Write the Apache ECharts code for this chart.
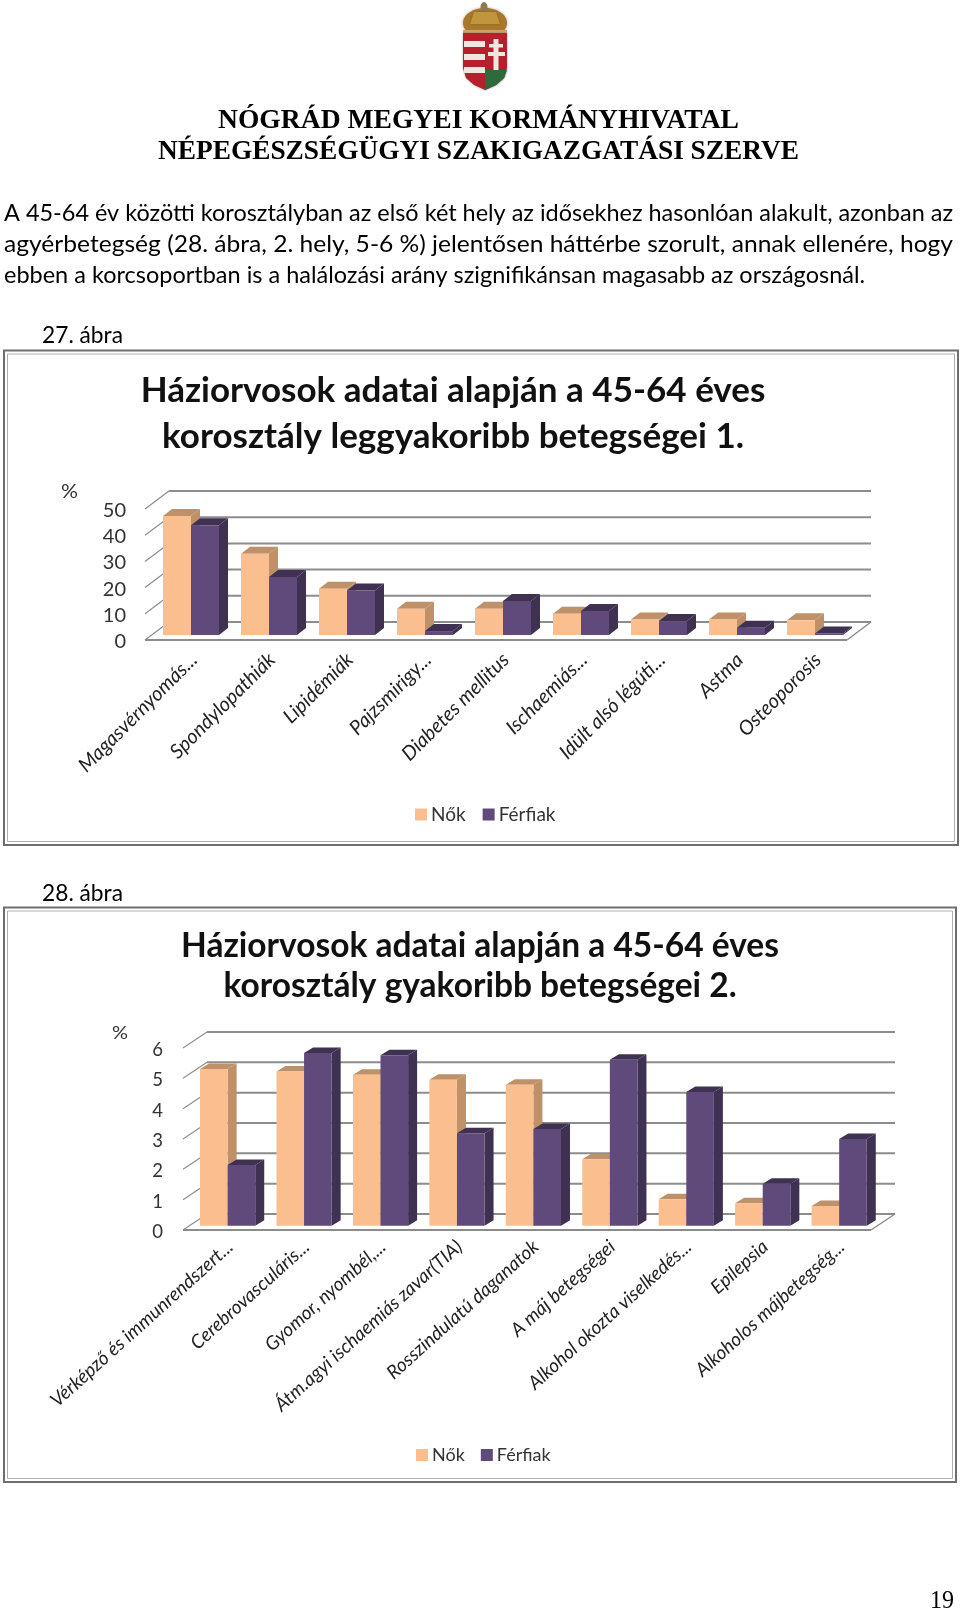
<!DOCTYPE html>
<html>
<head>
<meta charset="utf-8">
<style>html,body{margin:0;padding:0;background:#fff}#c{width:960px;height:1611px}</style>
<script src="https://cdn.jsdelivr.net/npm/echarts@6/dist/echarts.min.js"></script>
</head>
<body>
<div id="c"></div>
<script>
var seriesNames = ['Nők', 'Férfiak'];

var categories1 = ['Magasvérnyomás...', 'Spondylopathiák', 'Lipidémiák', 'Pajzsmirigy...', 'Diabetes mellitus', 'Ischaemiás...', 'Idült alsó légúti...', 'Astma', 'Osteoporosis'];
var women1 = [45.4, 31, 17.7, 10, 10, 8.1, 5.9, 5.9, 5.6];
var men1 = [41.9, 22.1, 17, 1.5, 13, 9.2, 5.3, 2.8, 0.6];
var ticks1 = [0, 10, 20, 30, 40, 50];

var categories2 = ['Vérképző és immunrendszert...', 'Cerebrovasculáris...', 'Gyomor, nyombél,...', 'Átm.agyi ischaemiás zavar(TIA)', 'Rosszindulatú daganatok', 'A máj betegségei', 'Alkohol okozta viselkedés...', 'Epilepsia', 'Alkoholos májbetegség...'];
var women2 = [5.17, 5.08, 4.98, 4.81, 4.65, 2.19, 0.87, 0.74, 0.65];
var men2 = [2.0, 5.69, 5.62, 3.05, 3.19, 5.47, 4.41, 1.38, 2.86];
var ticks2 = [0, 1, 2, 3, 4, 5, 6];

var headerLines = ['NÓGRÁD MEGYEI KORMÁNYHIVATAL', 'NÉPEGÉSZSÉGÜGYI SZAKIGAZGATÁSI SZERVE'];
var bodyLines = [
  'A 45-64 év közötti korosztályban az első két hely az idősekhez hasonlóan alakult, azonban az',
  'agyérbetegség (28. ábra, 2. hely, 5-6 %) jelentősen háttérbe szorult, annak ellenére, hogy',
  'ebben a korcsoportban is a halálozási arány szignifikánsan magasabb az országosnál.'
];
var title1 = ['Háziorvosok adatai alapján a 45-64 éves', 'korosztály leggyakoribb betegségei 1.'];
var title2 = ['Háziorvosok adatai alapján a 45-64 éves', 'korosztály gyakoribb betegségei 2.'];

var PEACH = '#FBBF8F', PEACH_D = '#BE9168', PURPLE = '#604A7B', PURPLE_D = '#3F3151', GRIDC = '#8C8C8C';
var SANS = 'Lato, Carlito, sans-serif';

var mctx = document.createElement('canvas').getContext('2d');
function fitText(text, font, x0, x1, y, fill) {
  mctx.font = font;
  var w = mctx.measureText(text).width;
  return { type: 'text', x: x0, y: y, scaleX: (x1 - x0) / w, silent: true,
    style: { text: text, font: font, fill: fill || '#000', textAlign: 'left', textVerticalAlign: 'middle' } };
}

function barRenderer(side, geo) {
  return function (params, api) {
    var base = api.coord([api.value(0), 0]);
    var top = api.coord([api.value(0), api.value(1)]);
    var x = base[0] + geo.off + (side === 0 ? -geo.w : 0);
    var y0 = base[1] - geo.lift, y1 = top[1] - geo.lift;
    var d = geo.dx, e = geo.dy;
    var dark = side === 0 ? PEACH_D : PURPLE_D;
    return { type: 'group', children: [
      { type: 'polygon', shape: { points: [[x + geo.w, y1], [x + geo.w + d, y1 - e], [x + geo.w + d, y0 - e], [x + geo.w, y0]] }, style: { fill: dark } },
      { type: 'polygon', shape: { points: [[x, y1], [x + d, y1 - e], [x + geo.w + d, y1 - e], [x + geo.w, y1]] }, style: { fill: dark } },
      { type: 'rect', shape: { x: x, y: y1, width: geo.w, height: y0 - y1 }, style: { fill: side === 0 ? PEACH : PURPLE } }
    ] };
  };
}

function wallRenderer(geo) {
  return function (params, api) {
    var c = params.coordSys;
    var v = api.value(0);
    var y = api.coord([0, v])[1] - geo.shift;
    var L = c.x, R = c.x + c.width;
    var kids = [
      { type: 'line', shape: { x1: L, y1: y, x2: L + geo.bx, y2: y - geo.by }, style: { stroke: GRIDC, lineWidth: 1.2 } },
      { type: 'line', shape: { x1: L + geo.bx, y1: y - geo.by, x2: R + geo.bx, y2: y - geo.by }, style: { stroke: GRIDC, lineWidth: 2 } }
    ];
    if (v === 0) {
      kids.push({ type: 'line', shape: { x1: L, y1: y, x2: R, y2: y }, style: { stroke: GRIDC, lineWidth: 2 } });
      kids.push({ type: 'line', shape: { x1: R, y1: y, x2: R + geo.bx, y2: y - geo.by }, style: { stroke: GRIDC, lineWidth: 1.5 } });
    }
    return { type: 'group', children: kids };
  };
}

var geo1 = { off: 7, w: 28, lift: 6.5, shift: 1.5, dx: 9, dy: 7, bx: 24, by: 18 };
var geo2 = { off: 6.4, w: 27.6, lift: 6.3, shift: 2, dx: 9, dy: 5.5, bx: 24, by: 16 };

function pairs(a) { return a.map(function (v, i) { return [i, v]; }); }
function wallSeries(idx, ticks, geo) {
  return { type: 'custom', xAxisIndex: idx, yAxisIndex: idx, silent: true, z: 1, clip: false,
    encode: { y: 0 }, data: ticks.map(function (t) { return [t]; }), renderItem: wallRenderer(geo) };
}
function barSeries(idx, side, values, geo) {
  return { type: 'custom', name: seriesNames[side], xAxisIndex: idx, yAxisIndex: idx, z: 2 + side, clip: false,
    itemStyle: { color: side === 0 ? PEACH : PURPLE },
    encode: { x: 0, y: 1 }, data: pairs(values), renderItem: barRenderer(side, geo) };
}

function frame(x0, y0, x1, y1) {
  return [
    { type: 'rect', shape: { x: x0, y: y0, width: x1 - x0, height: y1 - y0 }, silent: true, style: { fill: '#fff', stroke: '#6E6E6E', lineWidth: 2 }, z: -2 },
    { type: 'rect', shape: { x: x0 + 3.5, y: y0 + 3.5, width: x1 - x0 - 7, height: y1 - y0 - 7 }, silent: true, style: { fill: 'none', stroke: '#B0B0B0', lineWidth: 1 }, z: -2 }
  ];
}

function crest() {
  var red = '#B5202C', white = '#EFE6E2', gold = '#A9782A';
  function poly(p, f) { return { type: 'polygon', silent: true, shape: { points: p }, style: { fill: f, shadowBlur: 2, shadowColor: 'rgba(90,60,50,0.5)' } }; }
  function rect(x, y, w, h, f) { return { type: 'rect', silent: true, shape: { x: x, y: y, width: w, height: h }, style: { fill: f } }; }
  return [
    { type: 'ellipse', silent: true, shape: { cx: 485, cy: 23, rx: 22, ry: 15 }, style: { fill: gold, shadowBlur: 3, shadowColor: 'rgba(90,60,50,0.5)' } },
    { type: 'ellipse', silent: true, shape: { cx: 484, cy: 7, rx: 3.5, ry: 5 }, style: { fill: '#8C7A55' } },
    poly([[474, 12], [496, 12], [500, 24], [470, 24]], '#C0963C'),
    rect(463, 30, 44, 3, '#C9A66B'),
    poly([[463, 33], [507, 33], [507, 68], [504, 78], [496, 85], [485, 90], [474, 85], [466, 78], [463, 68]], red),
    poly([[485, 70], [507, 70], [504, 78], [496, 85], [485, 90]], '#2E6B3C'),
    rect(464, 41, 21, 6, white), rect(464, 54, 21, 6, white), rect(464, 67, 21, 6, white),
    rect(493.5, 39, 5, 31, white), rect(489, 44, 14, 3.5, white), rect(488, 52, 17, 4, white)
  ];
}

var graphics = [].concat(
  crest(),
  [
    fitText(headerLines[0], 'bold 28px "Liberation Serif"', 218, 739, 121),
    fitText(headerLines[1], 'bold 28px "Liberation Serif"', 158, 799, 152),
    fitText(bodyLines[0], '24px ' + SANS, 4, 953, 213),
    fitText(bodyLines[1], '24px ' + SANS, 4, 953, 244),
    fitText(bodyLines[2], '24px ' + SANS, 4, 865, 275),
    fitText('27. ábra', '24px ' + SANS, 42, 123, 335),
    fitText('28. ábra', '24px ' + SANS, 42, 123, 893),
    fitText('19', '26px "Liberation Serif"', 930, 954, 1601),
    fitText('%', '19px ' + SANS, 61, 78, 492, '#333'),
    fitText('%', '18px ' + SANS, 112, 128, 1033, '#333')
  ],
  frame(4, 350.5, 958, 845),
  frame(4, 907.5, 956, 1482)
);

function catAxis(idx, cats, rot, size, margin, pad) {
  return { type: 'category', gridIndex: idx, data: cats, boundaryGap: true,
    axisLine: { show: false }, axisTick: { show: false }, splitLine: { show: false },
    axisLabel: { rotate: rot, interval: 0, margin: margin, padding: pad, hideOverlap: false,
      fontFamily: SANS, fontStyle: 'italic', fontSize: size, color: '#222' } };
}
function valAxis(idx, max, step, size, margin) {
  return { type: 'value', gridIndex: idx, min: 0, max: max, interval: step,
    axisLine: { show: false }, axisTick: { show: false }, splitLine: { show: false },
    axisLabel: { margin: margin, fontFamily: SANS, fontSize: size, color: '#333' } };
}

var option = {
  backgroundColor: '#fff',
  animation: false,
  title: [
    { text: title1.join('\n'), left: 448, top: 363, textAlign: 'center',
      textStyle: { fontFamily: SANS, fontWeight: 'bold', fontSize: 35, color: '#111', lineHeight: 46 } },
    { text: title2.join('\n'), left: 475, top: 921, textAlign: 'center',
      textStyle: { fontFamily: SANS, fontWeight: 'bold', fontSize: 33.5, color: '#111', lineHeight: 40 } }
  ],
  legend: [
    { left: 410, top: 800, icon: 'rect', itemWidth: 12, itemHeight: 12, itemGap: 17, selectedMode: false, data: seriesNames,
      textStyle: { fontFamily: SANS, fontSize: 19, color: '#333' , padding: [0,0,0,-1]} },
    { left: 411, top: 1441, icon: 'rect', itemWidth: 12, itemHeight: 12, itemGap: 16, selectedMode: false, data: seriesNames,
      textStyle: { fontFamily: SANS, fontSize: 18, color: '#333', padding: [0,0,0,-1] } }
  ],
  grid: [
    { left: 145, top: 510.5, width: 702, height: 131 },
    { left: 183, top: 1050, width: 688, height: 182 }
  ],
  xAxis: [catAxis(0, categories1, 45, 20, 25, [0, -14, 0, 0]), catAxis(1, categories2, 42, 19, 20, [0, -12, 0, 0])],
  yAxis: [valAxis(0, 50, 10, 20, 19), valAxis(1, 6, 1, 18.5, 20)],
  graphic: graphics,
  series: [
    wallSeries(0, ticks1, geo1), barSeries(0, 0, women1, geo1), barSeries(0, 1, men1, geo1),
    wallSeries(1, ticks2, geo2), barSeries(1, 0, women2, geo2), barSeries(1, 1, men2, geo2)
  ]
};
var chart = echarts.init(document.getElementById('c'));
chart.setOption(option);
</script>
</body>
</html>
